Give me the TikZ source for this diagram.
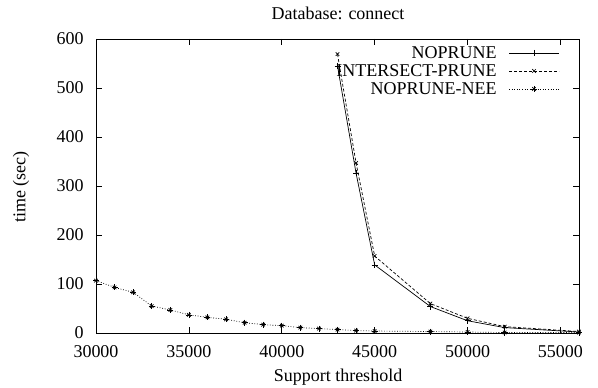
\documentclass[tikz,border=0pt]{standalone}
\usepackage{fontspec}
\setmainfont{Liberation Serif}
\usetikzlibrary{plotmarks}

\begin{document}
\begin{tikzpicture}[x=1pt,y=1pt,line width=0.7pt,
  every node/.style={font=\fontsize{18}{20}\selectfont,inner sep=0pt},
  noprune line/.style={solid,mark=+,mark size=3pt,mark options={solid}},
  intersect line/.style={dash pattern=on 3pt off 2pt,mark=x,mark size=2.5pt,
    mark options={solid}},
  nee line/.style={dash pattern=on 0.8pt off 1.8pt,mark=x,mark size=2.5pt,
    mark options={solid}},
  nee star/.style={only marks,mark=+,mark size=3pt,mark options={solid}}]

  \useasboundingbox (0,0) rectangle (598,388);

  \node (title) at (338,375) {Database: connect};
  \node (xlabel) at (338,11) {Support threshold};
  \node[rotate=90] (ylabel) at (21,201) {time (sec)};

  \begin{scope}[shift={(96,55)},x=18.577pt,y=0.49pt]
    % frame and mirrored ticks
    \draw (0,0) rectangle (26,600);
    \foreach \v in {0,100,...,600} {
      \draw (0,\v) -- ++(6pt,0);
      \draw (26,\v) -- ++(-6pt,0);
      \node[anchor=east] (yl\v) at ([xshift=-12pt]0,\v) {\v};
    }
    \foreach \v/\lab in {0/30000,5/35000,10/40000,15/45000,20/50000,25/55000} {
      \draw (\v,0) -- ++(0,6pt);
      \draw (\v,600) -- ++(0,-6pt);
      \node (xl\v) at ([yshift=-19pt]\v,0) {\lab};
    }

    % NOPRUNE
    \draw[noprune line] plot coordinates {(13,545) (14,326) (15,139)
      (18,54) (20,25) (22,11) (26,2)};
    % INTERSECT-PRUNE
    \draw[intersect line] plot coordinates {(13,569) (14,347) (15,157)
      (18,60) (20,30) (22,13) (26,3)};
    % NOPRUNE-NEE
    \draw[nee line] plot coordinates {(0,107) (1,93) (2,83) (3,55) (4,47)
      (5,37) (6,32) (7,28) (8,21) (9,17) (10,15) (11,11) (12,9) (13,7)
      (14,5) (15,4) (18,3) (20,2) (22,1) (26,1)};
    \draw[nee star] plot coordinates {(0,107) (1,93) (2,83) (3,55) (4,47)
      (5,37) (6,32) (7,28) (8,21) (9,17) (10,15) (11,11) (12,9) (13,7)
      (14,5) (15,4) (18,3) (20,2) (22,1) (26,1)};
  \end{scope}

  % key
  \node[anchor=east] (k1) at (497,335) {NOPRUNE};
  \node[anchor=east] (k2) at (497,317) {INTERSECT-PRUNE};
  \node[anchor=east] (k3) at (497,299) {NOPRUNE-NEE};
  \draw[noprune line,mark=none] (509,335) -- (559,335);
  \draw[intersect line,mark=none] (509,317) -- (559,317);
  \draw[nee line,mark=none] (509,299) -- (559,299);
  \draw[noprune line,only marks] plot coordinates {(534,335)};
  \draw[intersect line,only marks] plot coordinates {(534,317)};
  \draw[nee line,only marks] plot coordinates {(534,299)};
  \draw[nee star] plot coordinates {(534,299)};
\end{tikzpicture}
\end{document}
